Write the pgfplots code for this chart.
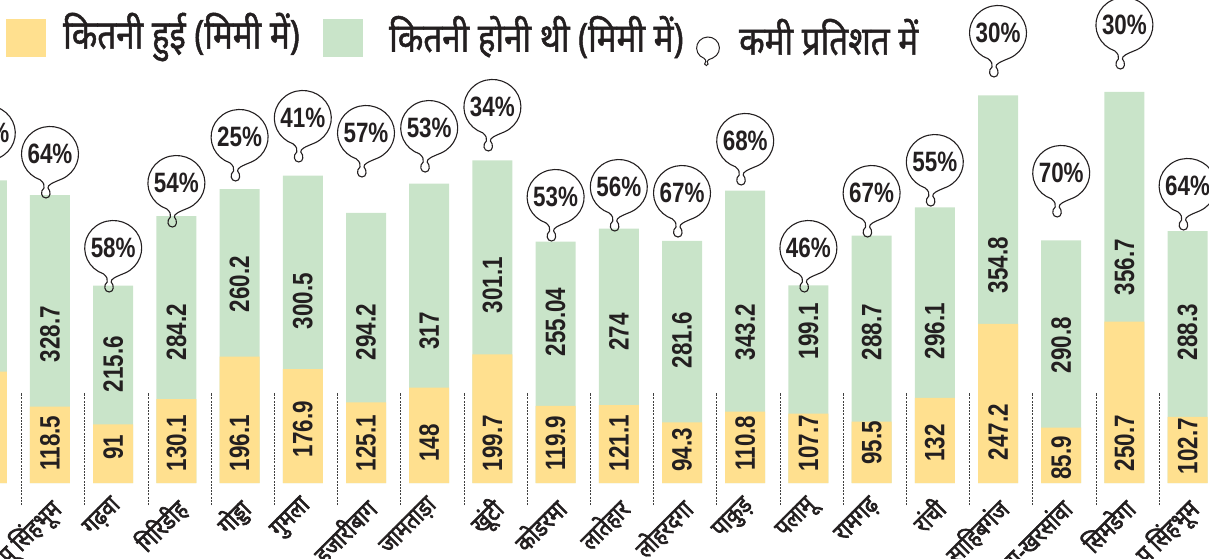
\documentclass[border=0pt]{standalone}
\usepackage{fontspec}
\usepackage{pgfplots}
\usepackage{pgfplotstable}
\pgfplotsset{compat=1.18}
\setmainfont{Liberation Sans}
\newfontfamily\devfont[Script=Devanagari, FakeStretch=0.83, FakeBold=1.2]{Noto Sans}
\newfontfamily\devlab[Script=Devanagari, FakeStretch=0.85, FakeBold=2.5]{Noto Sans}
\newfontfamily\numfont[FakeStretch=0.8]{Liberation Sans}
\definecolor{barY}{HTML}{FFE08F}
\definecolor{barG}{HTML}{C9E4C9}
\definecolor{ink}{HTML}{231F20}

\pgfdeclareplotmark{bubble}{%
  \pgfpathmoveto{\pgfqpoint{12.045pt}{-24.924pt}}%
  \pgfpatharc{-65}{250}{28.5pt and 27.5pt}%
  \pgfpathcurveto{\pgfqpoint{-6pt}{-29pt}}{\pgfqpoint{-5.5pt}{-31pt}}{\pgfqpoint{-6pt}{-34pt}}%
  \pgfpathcurveto{\pgfqpoint{-10pt}{-37pt}}{\pgfqpoint{-9pt}{-44pt}}{\pgfqpoint{-4pt}{-44pt}}%
  \pgfpathcurveto{\pgfqpoint{1pt}{-44pt}}{\pgfqpoint{1pt}{-37pt}}{\pgfqpoint{-2pt}{-34pt}}%
  \pgfpathcurveto{\pgfqpoint{-2.5pt}{-31pt}}{\pgfqpoint{2pt}{-29pt}}{\pgfqpoint{12.045pt}{-24.924pt}}%
  \pgfusepathqstroke}

\pgfplotstableread{
x   act    exp    gly    yly   by     pct
-1  173    297    234.5  62.1  543.5  42
0   118.5  328.7  231.4  62.1  510.9  64
1   91     215.6  184.8  55.9  364.9  58
2   130.1  284.2  234.5  62.1  465.8  54
3   196.1  260.2  309.0  62.1  537.3  25
4   176.9  300.5  282.6  83.9  566.8  41
5   125.1  294.2  234.5  62.1  543.5  57
6   148    317    236.0  62.1  551.2  53
7   199.7  301.1  307.5  62.1  583.9  34
8   119.9  255.04 250.0  62.1  444.1  53
9   121.1  274    234.5  62.1  459.6  56
10  94.3   281.6  222.0  51.2  450.3  67
11  110.8  343.2  234.5  62.1  531.1  68
12  107.7  199.1  236.0  62.1  364.9  46
13  95.5   288.7  234.5  62.1  450.3  67
14  132    296.1  236.0  62.1  498.4  55
15  247.2  354.8  338.5  79.2  698.8  30
16  85.9   290.8  214.3  38.8  481.4  70
17  250.7  356.7  335.4  62.1  711.2  30
18  102.7  288.3  234.5  57.5  461.2  64
}\data

\pgfplotstableread{
sx     sy
-1.45  -34.2
-1.45  140
-1.45  nan
-0.45  -34.2
-0.45  140
-0.45  nan
0.55   -34.2
0.55   140
0.55   nan
1.55   -34.2
1.55   140
1.55   nan
2.55   -34.2
2.55   140
2.55   nan
3.55   -34.2
3.55   140
3.55   nan
4.55   -34.2
4.55   140
4.55   nan
5.55   -34.2
5.55   140
5.55   nan
6.55   -34.2
6.55   140
6.55   nan
7.55   -34.2
7.55   140
7.55   nan
8.55   -34.2
8.55   140
8.55   nan
9.55   -34.2
9.55   140
9.55   nan
10.55  -34.2
10.55  140
10.55  nan
11.55  -34.2
11.55  140
11.55  nan
12.55  -34.2
12.55  140
12.55  nan
13.55  -34.2
13.55  140
13.55  nan
14.55  -34.2
14.55  140
14.55  nan
15.55  -34.2
15.55  140
15.55  nan
16.55  -34.2
16.55  140
16.55  nan
17.55  -34.2
17.55  140
}\seps

\begin{document}
\begin{tikzpicture}
\useasboundingbox (0,0) rectangle (1209pt,558pt);
\clip (0,0) rectangle (1209pt,558pt);
\begin{axis}[
  at={(0pt,53pt)}, anchor=south west,
  scale only axis, width=1209pt, height=505pt,
  xmin=-0.7911, xmax=18.3386, ymin=-34.16, ymax=750,
  clip=false,
  axis line style={draw=none},
  ytick=\empty,
  xtick={-1,...,18},
  xticklabels={दुमका, पू सिंहभूम, गढ़वा, गिरिडीह, गोड्डा, गुमला, हजारीबाग, जामताड़ा, खूंटी, कोडरमा, लातेहार, लोहरदगा, पाकुड़, पलामू, रामगढ़, रांची, साहिबगंज, सरायकेला-खरसांवा, सिमडेगा, प सिंहभूम},
  major tick length=0pt,
  xtick pos=left,
  unbounded coords=jump,
  xticklabel style={font=\devlab\fontsize{25}{25}\selectfont, text=ink, xshift=-3pt, yshift=10pt, rotate=45, anchor=north east, inner sep=0pt},
]
\addplot[draw=black!75, dash pattern=on 2pt off 1.2pt, line width=0.9pt, mark=none] table[x=sx, y=sy] {\seps};
\addplot[ybar, bar width=40pt, bar shift=0pt, fill=barG, draw=none] table[x=x, y expr=\thisrow{act}+\thisrow{exp}] {\data};
\addplot[ybar, bar width=40pt, bar shift=0pt, fill=barY, draw=none] table[x=x, y=act] {\data};
\addplot[draw=none, mark=none, nodes near coords, point meta=explicit symbolic,
  every node near coord/.style={anchor=center, rotate=90, font=\numfont\bfseries\fontsize{28}{28}\selectfont, text=ink, inner sep=0pt}]
  table[x=x, y=gly, meta=exp] {\data};
\addplot[draw=none, mark=none, nodes near coords, point meta=explicit symbolic,
  every node near coord/.style={anchor=center, rotate=90, font=\numfont\bfseries\fontsize{28}{28}\selectfont, text=ink, inner sep=0pt}]
  table[x=x, y=yly, meta=act] {\data};
\addplot[only marks, mark=bubble, mark options={draw=ink, line width=1.1pt},
  nodes near coords={\pgfplotspointmeta\%}, point meta=explicit symbolic,
  every node near coord/.style={anchor=center, font=\numfont\bfseries\fontsize{28}{28}\selectfont, text=ink, inner sep=0pt}]
  table[x=x, y=by, meta=pct] {\data};
\end{axis}
% legend
\fill[barY] (6pt,501pt) rectangle (46pt,539pt);
\node[anchor=west, inner sep=0pt, text=ink, font=\devfont\fontsize{40}{40}\selectfont] at (63pt,521pt) {कितनी हुई (मिमी में)};
\fill[barG] (323pt,501pt) rectangle (363pt,539pt);
\node[anchor=west, inner sep=0pt, text=ink, font=\devfont\fontsize{40}{40}\selectfont] at (389pt,521pt) {कितनी होनी थी (मिमी में)};
\begin{scope}[shift={(708pt,510pt)}, scale=0.4]
\pgfsetlinewidth{1pt}\pgfsetstrokecolor{ink}
\pgfuseplotmark{bubble}
\end{scope}
\node[anchor=west, inner sep=0pt, text=ink, font=\devfont\fontsize{40}{40}\selectfont] at (739pt,521pt) {कमी प्रतिशत में};
\end{tikzpicture}
\end{document}
